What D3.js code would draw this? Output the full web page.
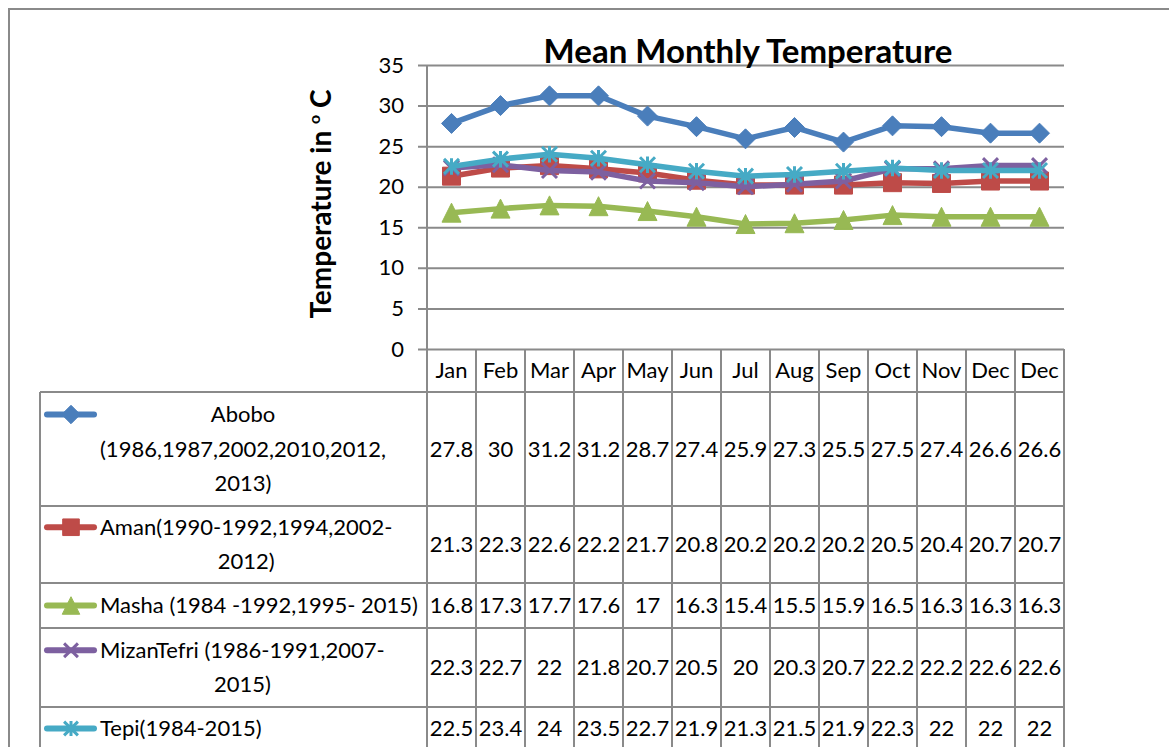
<!DOCTYPE html>
<html>
<head>
<meta charset="utf-8">
<script src="https://cdn.jsdelivr.net/npm/d3@7"></script>
<style>
  html, body { margin: 0; padding: 0; background: #fff; }
  svg { display: block; font-family: Lato, sans-serif; }
</style>
</head>
<body>
<div id="chart"></div>
<script>
// table / chart data
const months = ["Jan", "Feb", "Mar", "Apr", "May", "Jun", "Jul", "Aug", "Sep", "Oct", "Nov", "Dec", "Dec"];
const yTicks = [0, 5, 10, 15, 20, 25, 30, 35];

const abobo = [27.8, 30, 31.2, 31.2, 28.7, 27.4, 25.9, 27.3, 25.5, 27.5, 27.4, 26.6, 26.6];
const aman = [21.3, 22.3, 22.6, 22.2, 21.7, 20.8, 20.2, 20.2, 20.2, 20.5, 20.4, 20.7, 20.7];
const masha = [16.8, 17.3, 17.7, 17.6, 17, 16.3, 15.4, 15.5, 15.9, 16.5, 16.3, 16.3, 16.3];
const mizanTefri = [22.3, 22.7, 22, 21.8, 20.7, 20.5, 20, 20.3, 20.7, 22.2, 22.2, 22.6, 22.6];
const tepi = [22.5, 23.4, 24, 23.5, 22.7, 21.9, 21.3, 21.5, 21.9, 22.3, 22, 22, 22];

const seriesNames = [
    ["Abobo", "(1986,1987,2002,2010,2012,", "2013)"],
    ["Aman(1990-1992,1994,2002-", "2012)"],
    ["Masha (1984 -1992,1995- 2015)"],
    ["MizanTefri (1986-1991,2007-", "2015)"],
    ["Tepi(1984-2015)"]
];
const seriesValues = [abobo, aman, masha, mizanTefri, tepi];

// styling
const colors = ["#4a7ebb", "#be4b48", "#98b954", "#7d60a0", "#46aac5"];
const grid = "#8a8a8a";
const width = 1169, height = 747;

// marker shapes, Excel style
const diamond = { draw(c, s) { const r = Math.sqrt(s) / 2; c.moveTo(0, -r); c.lineTo(r, 0); c.lineTo(0, r); c.lineTo(-r, 0); c.closePath(); } };
const square = { draw(c, s) { const r = Math.sqrt(s) / 2; c.rect(-r, -r, 2 * r, 2 * r); } };
const triangle = { draw(c, s) { const r = Math.sqrt(s) / 2; c.moveTo(0, -r); c.lineTo(r, r); c.lineTo(-r, r); c.closePath(); } };
const cross = { draw(c, s) { const r = Math.sqrt(s) / 2; c.moveTo(-r, -r); c.lineTo(r, r); c.moveTo(r, -r); c.lineTo(-r, r); } };
const star = { draw(c, s) { const r = Math.sqrt(s) / 2; c.moveTo(-r, -r); c.lineTo(r, r); c.moveTo(r, -r); c.lineTo(-r, r); c.moveTo(0, -r * 1.1); c.lineTo(0, r * 1.1); } };
const markers = [
    { type: diamond, size: 20 * 20, fill: true },
    { type: square, size: 18 * 18, fill: true },
    { type: triangle, size: 19 * 19, fill: true },
    { type: cross, size: 15 * 15, fill: false },
    { type: star, size: 15 * 15, fill: false }
];

const svg = d3.select("#chart").append("svg")
    .attr("width", width)
    .attr("height", height);

const x = d3.scaleBand().domain(d3.range(months.length)).range([427, 1064]);
const y = d3.scaleLinear().domain([0, 35]).range([349, 65]);
const rowTops = [392, 506, 583, 628, 707, 750];
const tableLeft = 40;

// outer frame
svg.append("path")
    .attr("d", `M9,${height + 5}V9H${width + 5}`)
    .attr("fill", "none")
    .attr("stroke", grid)
    .attr("stroke-width", 2);

// gridlines + tick labels
const yAxis = svg.append("g")
    .attr("transform", `translate(${x.range()[1]},0)`)
    .call(d3.axisLeft(y).tickValues(yTicks).tickSize(x.range()[1] - 418).tickPadding(14));
yAxis.select(".domain").remove();
yAxis.selectAll(".tick line").attr("stroke", grid).attr("stroke-width", 2);
yAxis.selectAll(".tick text")
    .attr("fill", "#000")
    .style("font-size", "22px")
    .style("font-family", "Lato, sans-serif");

// table grid
const tbl = svg.append("g").attr("stroke", grid).attr("stroke-width", 2).attr("fill", "none");
tbl.selectAll("line.col")
    .data(d3.range(months.length + 1))
    .join("line")
    .attr("x1", i => x.range()[0] + i * x.bandwidth())
    .attr("x2", i => x.range()[0] + i * x.bandwidth())
    .attr("y1", i => i === 0 ? y(35) : y(0))
    .attr("y2", rowTops[rowTops.length - 1]);
tbl.append("line")
    .attr("x1", tableLeft).attr("x2", tableLeft)
    .attr("y1", rowTops[0]).attr("y2", rowTops[rowTops.length - 1]);
tbl.selectAll("line.row")
    .data(rowTops)
    .join("line")
    .attr("x1", tableLeft).attr("x2", x.range()[1])
    .attr("y1", d => d).attr("y2", d => d);

// month header
svg.append("g").selectAll("text")
    .data(months)
    .join("text")
    .attr("x", (d, i) => x(i) + x.bandwidth() / 2)
    .attr("y", (y(0) + rowTops[0]) / 2)
    .attr("dy", "0.35em")
    .attr("text-anchor", "middle")
    .style("font-size", "22px")
    .text(d => d);

// lines + markers
const line = d3.line()
    .x((d, i) => x(i) + x.bandwidth() / 2)
    .y(d => y(d));

seriesValues.forEach((vals, s) => {
    const g = svg.append("g");
    g.append("path")
        .datum(vals)
        .attr("d", line)
        .attr("fill", "none")
        .attr("stroke", colors[s])
        .attr("stroke-width", 5.5)
        .attr("stroke-linejoin", "round");
    const m = markers[s];
    g.selectAll("path.mk")
        .data(vals)
        .join("path")
        .attr("transform", (d, i) => `translate(${x(i) + x.bandwidth() / 2},${y(d)})`)
        .attr("d", d3.symbol().type(m.type).size(m.size))
        .attr("fill", m.fill ? colors[s] : "none")
        .attr("stroke", colors[s])
        .attr("stroke-width", m.fill ? 1 : 3);
});

// table rows
const lineGap = 34.5;
seriesValues.forEach((vals, s) => {
    const top = rowTops[s], bottom = rowTops[s + 1];
    const mid = (top + bottom) / 2;
    const names = seriesNames[s];
    const firstY = mid - (names.length - 1) / 2 * lineGap;
    const g = svg.append("g");

    // legend key
    g.append("line")
        .attr("x1", 47).attr("x2", 94)
        .attr("y1", firstY).attr("y2", firstY)
        .attr("stroke", colors[s])
        .attr("stroke-width", 6)
        .attr("stroke-linecap", "round");
    const m = markers[s];
    g.append("path")
        .attr("transform", `translate(71,${firstY})`)
        .attr("d", d3.symbol().type(m.type).size(m.size * 0.85))
        .attr("fill", m.fill ? colors[s] : "none")
        .attr("stroke", colors[s])
        .attr("stroke-width", m.fill ? 1 : 3);

    const label = g.selectAll("text.name")
        .data(names)
        .join("text")
        .attr("y", (d, k) => firstY + k * lineGap)
        .attr("dy", "0.35em")
        .attr("text-anchor", "middle")
        .style("font-size", "22px")
        .text(d => d);
    const widest = d3.max(label.nodes(), n => n.getComputedTextLength());
    label.attr("x", 100 + widest / 2);

    g.selectAll("text.val")
        .data(vals)
        .join("text")
        .attr("x", (d, i) => x(i) + x.bandwidth() / 2)
        .attr("y", mid)
        .attr("dy", "0.35em")
        .attr("text-anchor", "middle")
        .style("font-size", "22px")
        .text(d => d);
});

// titles
svg.append("text")
    .attr("x", 748)
    .attr("y", 63)
    .attr("text-anchor", "middle")
    .style("font-size", "33px")
    .style("font-weight", "bold")
    .text("Mean Monthly Temperature");

const yTitle = svg.append("text")
    .attr("transform", "translate(331,204) rotate(-90)")
    .attr("text-anchor", "middle")
    .style("font-size", "28px")
    .style("font-weight", "bold");
yTitle.append("tspan").text("Temperature in ");
yTitle.append("tspan").attr("dy", -11).style("font-size", "16px").text("o");
yTitle.append("tspan").attr("dy", 11).text(" C");
</script>
</body>
</html>
